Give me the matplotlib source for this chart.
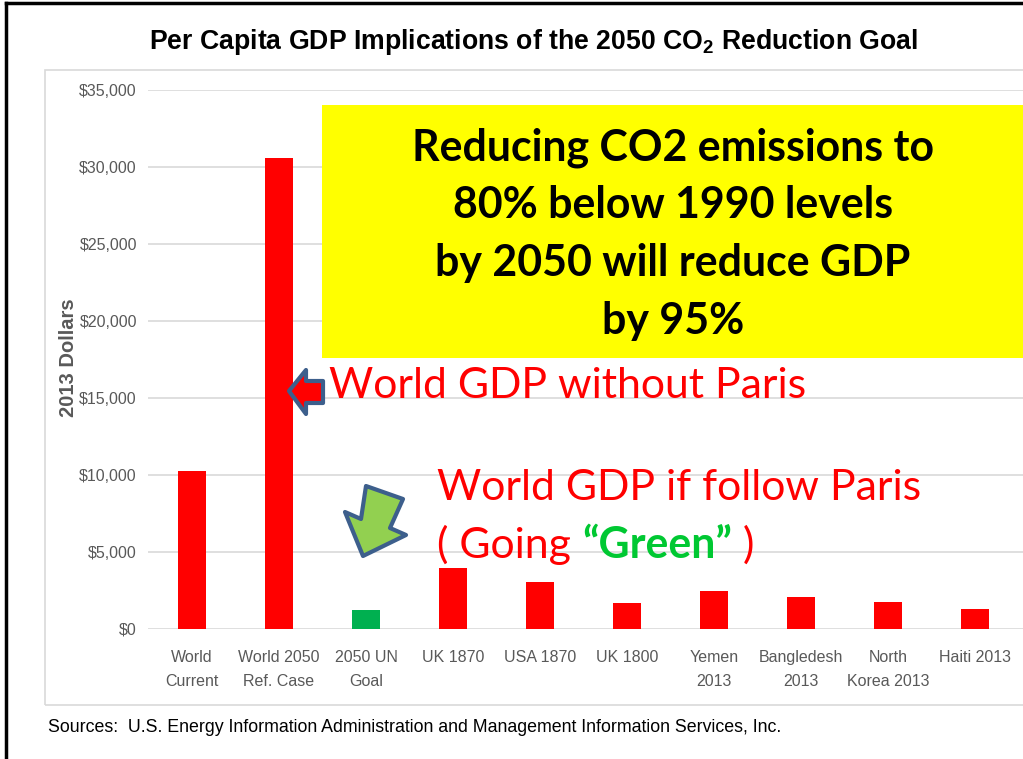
import matplotlib
matplotlib.use('Agg')
import matplotlib.pyplot as plt
from matplotlib.patches import Rectangle, Polygon
from matplotlib.ticker import FuncFormatter

# chart data
categories = ['World\nCurrent', 'World 2050\nRef. Case', '2050 UN\nGoal', 'UK 1870', 'USA 1870',
              'UK 1800', 'Yemen\n2013', 'Bangledesh\n2013', 'North\nKorea 2013', 'Haiti 2013']
gdp = [10250, 30600, 1250, 3950, 3030, 1680, 2450, 2060, 1780, 1270]
bar_colors = ['#ff0000', '#ff0000', '#00b050'] + ['#ff0000'] * 7
yticks = [0, 5000, 10000, 15000, 20000, 25000, 30000, 35000]

narrow = ['Liberation Sans', 'DejaVu Sans']
calibri = ['Lato', 'DejaVu Sans']
plt.rcParams['mathtext.fontset'] = 'custom'
plt.rcParams['mathtext.rm'] = 'Liberation Sans:bold'

W, H = 1023, 759
fig = plt.figure(figsize=(W / 100, H / 100), dpi=100)

def fx(px):
    return px / W

def fy(py):
    return 1 - py / H

def fit_width(t, width_px):
    # scale a text so that it spans about width_px pixels
    fig.canvas.draw()
    w = t.get_window_extent().width
    t.set_fontsize(t.get_fontsize() * width_px / w)

# slide frame lines and inner chart box
fig.add_artist(plt.Line2D([fx(6), fx(6)], [0, fy(3)], color='black', lw=2.5))
fig.add_artist(plt.Line2D([fx(6), 1], [fy(3), fy(3)], color='black', lw=2.5))
fig.add_artist(Rectangle((fx(45), fy(705)), fx(1030) - fx(45), fy(70) - fy(705),
                         fill=False, edgecolor='#d9d9d9', lw=1.2, transform=fig.transFigure))

ax = fig.add_axes([fx(148), fy(629), fx(1023) - fx(148), fy(90) - fy(629)])
x = list(range(len(categories)))
ax.bar(x, gdp, width=0.32, color=bar_colors, zorder=3)
ax.set_xlim(-0.506, 9.55)
ax.set_ylim(0, 35000)
ax.set_yticks(yticks)
ax.yaxis.set_major_formatter(FuncFormatter(lambda v, p: '${:,.0f}'.format(v)))
ax.grid(axis='y', color='#d9d9d9', lw=1.2, zorder=0)
for s in ax.spines.values():
    s.set_visible(False)
ax.tick_params(axis='both', length=0, colors='#595959', labelsize=11.5)
ax.tick_params(axis='y', pad=8)
ax.tick_params(axis='x', pad=15)
ax.set_xticks(x)
ax.set_xticklabels(categories, linespacing=1.8)
for lab in ax.get_xticklabels() + ax.get_yticklabels():
    lab.set_family(narrow)

fig.text(fx(68), fy(358), '2013 Dollars', rotation=90, ha='center', va='center',
         fontsize=14.5, fontweight='bold', color='#595959', family=narrow)

title = fig.text(fx(533), fy(42), r'Per Capita GDP Implications of the 2050 CO$_\mathrm{2}$ Reduction Goal',
                 ha='center', va='center', fontsize=18, fontweight='bold', family=narrow)
fit_width(title, 770)

src = fig.text(fx(48), fy(728), 'Sources:  U.S. Energy Information Administration and Management Information Services, Inc.',
               ha='left', va='center', fontsize=12.5, family=narrow)
fit_width(src, 737)

# yellow call-out box
fig.add_artist(Rectangle((fx(322), fy(358)), 1 - fx(322), fy(105) - fy(358),
                         facecolor='#ffff00', edgecolor='none', transform=fig.transFigure, zorder=5))
box_lines = ['Reducing CO2 emissions to', '80% below 1990 levels', 'by 2050 will reduce GDP', 'by 95%']
box_texts = []
for i, t in enumerate(box_lines):
    box_texts.append(fig.text(fx(673), fy(148 + 57.5 * i), t, ha='center', va='center', fontsize=30,
                              family=calibri, fontweight='bold', color='black', zorder=6))
fit_width(box_texts[0], 523)
for bt in box_texts[1:]:
    bt.set_fontsize(box_texts[0].get_fontsize())

# red annotation texts
r1 = fig.text(fx(329), fy(386), 'World GDP without Paris', ha='left', va='center',
              fontsize=30, color='#ff0000', family=calibri, zorder=6)
fit_width(r1, 478)
fs = r1.get_fontsize()
fig.text(fx(437), fy(488), 'World GDP if follow Paris', ha='left', va='center',
         fontsize=fs, color='#ff0000', family=calibri, zorder=6)
t1 = fig.text(fx(437), fy(545), '( Going ', ha='left', va='center',
              fontsize=fs, color='#ff0000', family=calibri, zorder=6)
fig.canvas.draw()
bb = t1.get_window_extent()
t2 = fig.text(bb.x1 / W, fy(545), '\u201cGreen\u201d', ha='left', va='center', fontsize=fs,
              color='#00c832', fontweight='bold', family=calibri, zorder=6)
fig.canvas.draw()
bb2 = t2.get_window_extent()
fig.text(bb2.x1 / W, fy(545), ' )', ha='left', va='center',
         fontsize=fs, color='#ff0000', family=calibri, zorder=6)

# block arrows
left_arrow = [(289, 391), (306, 370), (306, 381), (323, 381), (323, 403), (306, 403), (306, 414)]
fig.add_artist(Polygon([(fx(a), fy(b)) for a, b in left_arrow], closed=True, facecolor='#ff0000',
                       edgecolor='#3d5f8c', lw=3, joinstyle='round', transform=fig.transFigure, zorder=6))
green_arrow = [(366, 486), (403, 499), (390, 528), (406, 535), (363, 556), (345, 512), (361, 519)]
fig.add_artist(Polygon([(fx(a), fy(b)) for a, b in green_arrow], closed=True, facecolor='#92d050',
                       edgecolor='#3d5f8c', lw=3, joinstyle='round', transform=fig.transFigure, zorder=6))

fig.savefig('out.png', dpi=100)
